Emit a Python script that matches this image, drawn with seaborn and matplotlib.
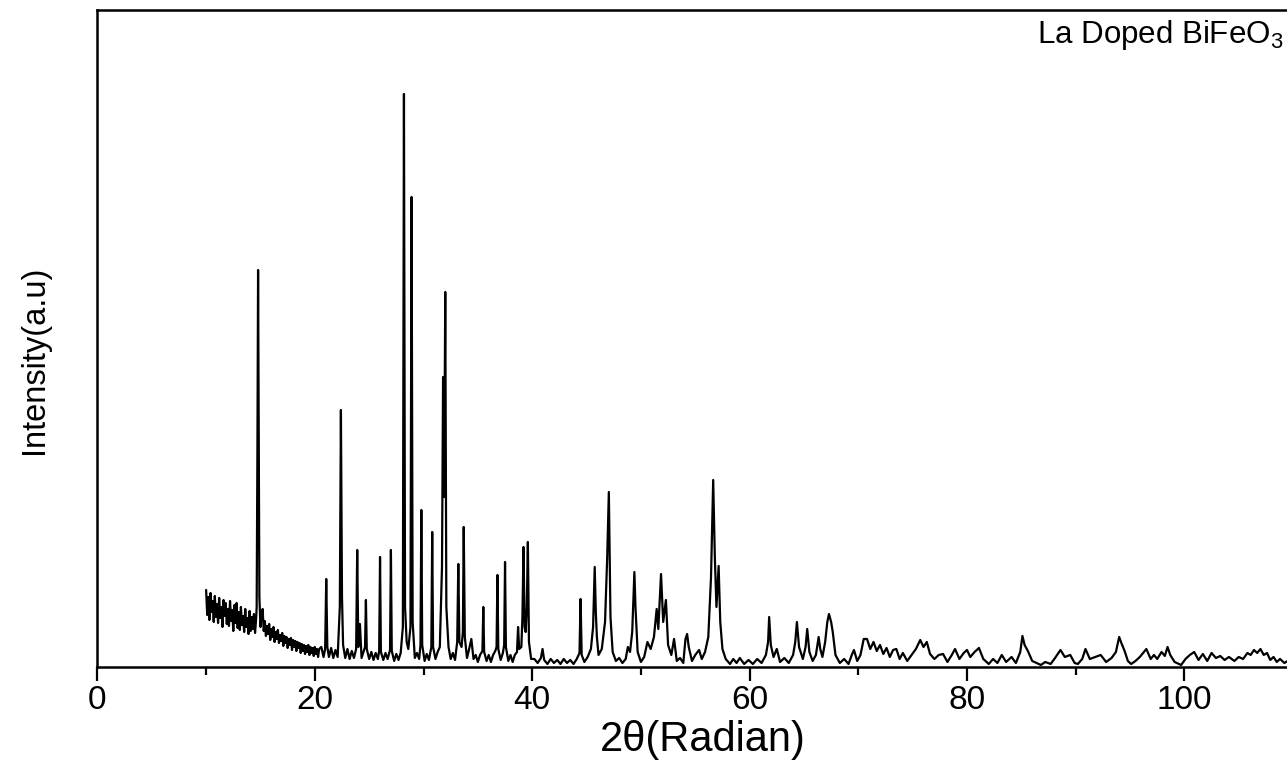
import matplotlib
matplotlib.use("Agg")
import matplotlib.pyplot as plt
import seaborn as sns
import pandas as pd

# ---- data (2theta in degrees, intensity in arbitrary units) ----
tt_low = [10.0, 10.1, 10.2, 10.3, 10.4, 10.5, 10.6, 10.7, 10.8, 10.9,
          11.0, 11.1, 11.2, 11.3, 11.4, 11.5, 11.6, 11.7, 11.8, 11.9,
          12.0, 12.1, 12.2, 12.3, 12.4, 12.5, 12.6, 12.7, 12.8, 12.9,
          13.0, 13.1, 13.2, 13.3, 13.4, 13.5, 13.6, 13.7, 13.8, 13.9,
          14.0, 14.1, 14.2, 14.3, 14.4, 14.5, 14.6, 14.65, 14.72, 14.78,
          14.84, 14.9, 15.0, 15.1, 15.2, 15.3, 15.4, 15.5, 15.6, 15.7,
          15.8, 15.9, 16.0, 16.1, 16.2, 16.3, 16.4, 16.5, 16.6, 16.7,
          16.8, 16.9, 17.0, 17.1, 17.2, 17.3, 17.4, 17.5, 17.6, 17.7,
          17.8, 17.9, 18.0, 18.1, 18.2, 18.3, 18.4, 18.5, 18.6, 18.7,
          18.8, 18.9, 19.0, 19.1, 19.2, 19.3, 19.4, 19.5, 19.6, 19.7,
          19.8, 19.9, 20.0, 20.1, 20.2, 20.3, 20.4]
int_low = [77, 52, 70, 47, 74, 55, 66, 45, 71, 50,
           63, 44, 69, 49, 60, 40, 67, 51, 64, 43,
           58, 41, 66, 46, 57, 36, 62, 44, 64, 39,
           55, 37, 60, 42, 51, 35, 58, 40, 49, 33,
           56, 36, 50, 38, 53, 34, 48, 60, 220, 397,
           230, 70, 40, 52, 58, 36, 46, 31, 41, 33,
           43, 27, 38, 30, 40, 25, 35, 28, 37, 24,
           32, 26, 34, 21, 31, 24, 30, 19, 28, 22,
           29, 17, 27, 20, 26, 16, 25, 19, 24, 14,
           23, 16, 22, 13, 21, 15, 22, 12, 20, 14,
           19, 11, 20, 13, 18, 10, 18]

tt_sharp = [20.6, 20.8, 20.95, 21.05, 21.15, 21.3, 21.5, 21.7, 21.9, 22.1,
            22.3, 22.4, 22.5, 22.6, 22.8, 23.0, 23.2, 23.4, 23.6, 23.8,
            23.9, 24.0, 24.15, 24.3, 24.5, 24.62, 24.7, 24.78, 25.0, 25.2,
            25.4, 25.6, 25.8, 25.92, 26.0, 26.08, 26.3, 26.5, 26.7, 26.92,
            27.0, 27.08, 27.3, 27.5, 27.7, 27.9, 28.1, 28.2, 28.3, 28.45,
            28.6, 28.8, 28.9, 29.0, 29.2, 29.4, 29.6, 29.72, 29.8, 29.88,
            30.1, 30.3, 30.5, 30.72, 30.8, 30.88, 31.1, 31.3, 31.5, 31.7,
            31.8, 31.9, 32.0, 32.1, 32.3, 32.5, 32.7, 32.9, 33.1, 33.2,
            33.3, 33.5, 33.62, 33.7, 33.8, 34.0, 34.2, 34.4, 34.6, 34.8,
            35.0, 35.2, 35.42, 35.5, 35.58, 35.8, 36.0, 36.2, 36.4, 36.6,
            36.72, 36.8, 36.88, 37.1, 37.3, 37.42, 37.5, 37.58, 37.8, 38.0,
            38.2, 38.4, 38.6, 38.7, 38.8, 39.0, 39.1, 39.2, 39.3, 39.4,
            39.5, 39.6, 39.7, 39.9]
int_sharp = [20, 10, 18, 88, 20, 10, 19, 9, 17, 10,
             60, 257, 70, 22, 9, 18, 8, 16, 9, 18,
             117, 20, 43, 9, 16, 20, 67, 18, 8, 15,
             7, 14, 8, 16, 110, 15, 7, 14, 8, 17,
             117, 16, 6, 13, 7, 14, 40, 573, 60, 25,
             18, 40, 470, 45, 9, 14, 8, 22, 157, 22,
             6, 13, 7, 20, 135, 20, 8, 15, 20, 100,
             290, 170, 375, 60, 20, 8, 14, 7, 25, 103,
             25, 20, 35, 140, 30, 9, 18, 28, 8, 12,
             5, 12, 16, 60, 15, 6, 12, 5, 12, 16,
             20, 92, 18, 7, 14, 22, 105, 20, 6, 12,
             5, 12, 15, 40, 18, 20, 50, 120, 40, 35,
             60, 125, 25, 8]

tt_mid = [40.2, 40.5, 40.8, 40.95, 41.1, 41.4, 41.7, 42.0, 42.3, 42.6,
          42.9, 43.2, 43.5, 43.8, 44.1, 44.35, 44.45, 44.55, 44.8, 45.1,
          45.4, 45.6, 45.75, 45.85, 45.95, 46.1, 46.4, 46.7, 46.9, 47.05,
          47.2, 47.4, 47.7, 48.0, 48.3, 48.6, 48.8, 49.0, 49.2, 49.4,
          49.5, 49.7, 50.0, 50.3, 50.6, 50.9, 51.2, 51.45, 51.6, 51.85,
          52.05, 52.3, 52.5, 52.8, 53.05, 53.3, 53.6, 53.9, 54.1, 54.25,
          54.4, 54.7, 55.0, 55.35, 55.6, 55.9, 56.2, 56.45, 56.65, 56.8,
          56.95, 57.15, 57.3, 57.5, 57.8, 58.2, 58.5, 58.8, 59.1, 59.5,
          59.9, 60.3, 60.7, 61.1, 61.5, 61.7, 61.8, 61.95, 62.2, 62.5,
          62.8, 63.2, 63.6, 64.0, 64.2, 64.35, 64.55, 64.9, 65.15, 65.3,
          65.5, 65.8, 66.1, 66.35, 66.5, 66.7, 66.95, 67.15, 67.3, 67.5,
          67.65, 67.9, 68.3, 68.7, 69.1, 69.4, 69.6, 69.9, 70.2, 70.5]
int_mid = [8, 4, 9, 18, 7, 3, 8, 4, 7, 3,
           8, 4, 7, 3, 8, 14, 68, 12, 5, 10,
           18, 40, 100, 55, 30, 12, 18, 45, 110, 175,
           50, 15, 6, 9, 4, 8, 20, 15, 35, 95,
           60, 15, 5, 10, 25, 18, 30, 58, 38, 93,
           45, 67, 22, 12, 28, 6, 9, 4, 28, 33,
           20, 6, 12, 17, 8, 15, 30, 90, 187, 110,
           60, 101, 45, 18, 8, 3, 8, 4, 9, 3,
           7, 3, 8, 4, 12, 25, 50, 22, 10, 18,
           5, 9, 4, 12, 25, 45, 20, 8, 20, 38,
           15, 6, 12, 30, 18, 10, 25, 45, 53, 45,
           35, 12, 4, 8, 3, 12, 17, 6, 12, 28]

tt_high = [70.8, 71.1, 71.4, 71.7, 72.0, 72.3, 72.6, 72.9, 73.2, 73.5,
           73.8, 74.1, 74.5, 74.9, 75.3, 75.7, 76.0, 76.3, 76.6, 77.0,
           77.4, 77.8, 78.2, 78.6, 78.9, 79.3, 79.7, 80.0, 80.3, 80.7,
           81.1, 81.5, 82.0, 82.4, 82.8, 83.2, 83.6, 84.1, 84.5, 84.9,
           85.1, 85.3, 85.6, 86.0, 86.4, 86.8, 87.2, 87.7, 88.1, 88.6,
           89.0, 89.5, 89.9, 90.2, 90.6, 90.9, 91.3, 91.8, 92.3, 92.8,
           93.3, 93.7, 94.0, 94.2, 94.5, 94.8, 95.1, 95.5, 95.9, 96.2,
           96.5, 96.9, 97.2, 97.5, 97.9, 98.2, 98.45, 98.7, 99.1, 99.7,
           100.1, 100.5, 100.9, 101.3, 101.7, 102.1, 102.5, 102.9, 103.3, 103.7,
           104.1, 104.6, 105.0, 105.4, 105.8, 106.1, 106.4, 106.7, 107.0, 107.3,
           107.6, 107.9, 108.2, 108.5, 108.8, 109.2, 109.5]
int_high = [28, 18, 25, 16, 22, 13, 19, 10, 17, 18,
            8, 14, 6, 12, 18, 27, 20, 25, 13, 8,
            12, 13, 5, 12, 18, 8, 14, 17, 10, 15,
            19, 8, 3, 8, 4, 12, 5, 10, 4, 15,
            31, 22, 16, 6, 4, 2, 5, 3, 9, 17,
            10, 12, 4, 3, 8, 18, 8, 10, 12, 5,
            9, 15, 30, 24, 16, 6, 3, 6, 10, 14,
            18, 8, 12, 8, 15, 11, 20, 12, 5, 2,
            8, 12, 15, 7, 13, 6, 14, 9, 11, 7,
            10, 6, 10, 8, 14, 12, 17, 14, 18, 12,
            14, 7, 10, 5, 8, 4, 6]

major_ticks = [0, 20, 40, 60, 80, 100]
minor_ticks = [10, 30, 50, 70, 90]
x_label = "2θ(Radian)"
y_label = "Intensity(a.u)"
sample_label = "La Doped BiFeO$_3$"

# ---- build table ----
df = pd.DataFrame({
    "two_theta": tt_low + tt_sharp + tt_mid + tt_high,
    "intensity": int_low + int_sharp + int_mid + int_high,
})

sns.set_style("ticks")
plt.rcParams["font.family"] = ["Liberation Sans", "DejaVu Sans"]
plt.rcParams["mathtext.fontset"] = "custom"
plt.rcParams["mathtext.rm"] = "Liberation Sans"
plt.rcParams["text.color"] = "black"
plt.rcParams["axes.labelcolor"] = "black"

fig = plt.figure(figsize=(12.87, 7.62), dpi=100)
ax = fig.add_axes([0.0757, 0.1247, 0.9243, 0.8622])

sns.lineplot(data=df, x="two_theta", y="intensity", ax=ax, color="black",
             linewidth=1.6, sort=False, estimator=None)

ax.set_xlim(0, 109.44)
ax.set_ylim(0, 657)
ax.set_yticks([])
ax.set_xticks(major_ticks)
ax.set_xticks(minor_ticks, minor=True)
ax.tick_params(axis="x", which="major", direction="out", length=10, width=1.6,
               labelsize=24, pad=3, colors="black")
ax.tick_params(axis="x", which="minor", direction="out", length=6, width=1.6,
               colors="black")

for side in ["left", "bottom", "top"]:
    ax.spines[side].set_linewidth(1.8)
    ax.spines[side].set_color("black")
ax.spines["right"].set_visible(False)

ax.set_xlabel(x_label, fontsize=30, color="black")
ax.xaxis.set_label_coords(0.509, -0.080)
ax.set_ylabel(y_label, fontsize=23.5, color="black")
ax.yaxis.set_label_coords(-0.040, 0.467)

ax.text(0.9966, 0.988, sample_label, transform=ax.transAxes, ha="right", va="top",
        fontsize=22.5, color="black")

fig.savefig("out.png", dpi=100)
